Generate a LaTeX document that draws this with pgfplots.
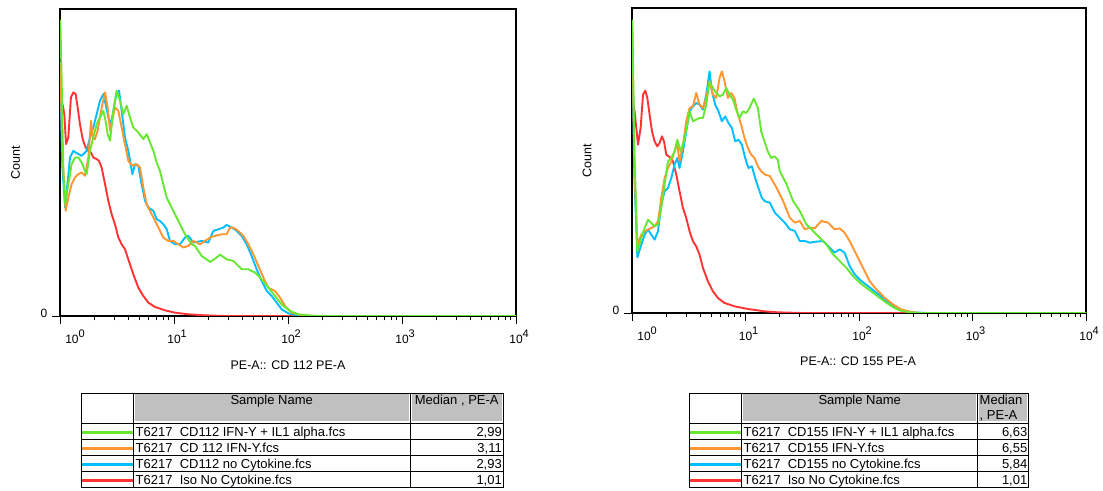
\documentclass[border=0pt]{standalone}
\usepackage{pgfplots}
\pgfplotsset{compat=1.18}
\usepackage{fontspec}
\setmainfont{Liberation Sans}
\definecolor{fjgreen}{RGB}{102,232,51}
\definecolor{fjorange}{RGB}{255,150,50}
\definecolor{fjblue}{RGB}{0,190,255}
\definecolor{fjred}{RGB}{255,51,51}
\definecolor{hdrgray}{RGB}{192,192,192}
\newcommand{\tl}[1]{\fontsize{12bp}{12bp}\selectfont 10\rlap{\raisebox{5.5bp}{\fontsize{11bp}{11bp}\selectfont #1}}}
\newcommand{\labfont}{\fontsize{12.5bp}{14bp}\selectfont}
\newcommand{\tabfont}{\fontsize{13bp}{15bp}\selectfont}
\pgfplotsset{
  flowjo/.style={
    scale only axis, anchor=south west,
    xmin=0, xmax=4, ymin=0,
    axis line style={black, line width=1.5bp},
    tick align=outside, tick pos=left,
    xtick={0,1,2,3,4},
    xticklabels={\hspace*{24bp}\tl{0},\tl{1},\tl{2},\tl{3},\tl{4}},
    minor xtick={0.30103,0.47712,0.60206,0.69897,0.77815,0.84510,0.90309,0.95424,
      1.30103,1.47712,1.60206,1.69897,1.77815,1.84510,1.90309,1.95424,
      2.30103,2.47712,2.60206,2.69897,2.77815,2.84510,2.90309,2.95424,
      3.30103,3.47712,3.60206,3.69897,3.77815,3.84510,3.90309,3.95424},
    major tick length=8bp, minor tick length=4.5bp,
    every tick/.style={black, line width=0.8bp},
    ytick={0}, yticklabels={0},
    xticklabel style={anchor=base, yshift=-19.5bp},
    yticklabel style={font=\fontsize{12bp}{12bp}\selectfont, anchor=center, xshift=-8bp, yshift=3bp},
    every axis plot/.append style={line width=1.9bp, line join=round},
    clip=true,
  }
}
\begin{document}
\begin{tikzpicture}[x=1bp,y=1bp]
\path[use as bounding box] (0,0) rectangle (1103,491);
% ---------------- left histogram ----------------
\begin{axis}[flowjo, at={(60bp,175bp)}, width=456bp, height=307bp, ymax=920,
  xlabel={PE-A:: CD 112 PE-A}, ylabel={Count},
  every axis x label/.style={at={(axis description cs:0.5,-0.16)}, anchor=center, font=\labfont},
  every axis y label/.style={at={(axis description cs:-0.0976,0.5)}, rotate=90, anchor=center, font=\labfont}]
% Iso No Cytokine
\addplot[fjred] coordinates {(0.003,650) (0.025,630) (0.038,605) (0.053,515) (0.073,535) (0.096,655) (0.117,670) (0.137,665) (0.155,625) (0.175,575) (0.196,535) (0.213,515) (0.234,500) (0.249,495) (0.272,490) (0.292,475) (0.322,470) (0.342,465) (0.365,445) (0.395,395) (0.424,345) (0.453,305) (0.482,275) (0.512,235) (0.541,215) (0.570,200) (0.599,170) (0.643,125) (0.687,85) (0.731,60) (0.775,40) (0.833,27) (0.921,17) (1.009,10) (1.126,5) (1.27,2) (1.45,0) (4,0)};
% CD112 no Cytokine
\addplot[fjblue] coordinates {(0.003,700) (0.02,450) (0.045,325) (0.088,475) (0.117,495) (0.137,490) (0.19,480) (0.234,495) (0.263,535) (0.292,565) (0.322,605) (0.351,645) (0.38,665) (0.4,635) (0.424,595) (0.447,575) (0.468,615) (0.497,670) (0.518,675) (0.541,615) (0.57,535) (0.599,495) (0.635,425) (0.658,455) (0.687,450) (0.716,395) (0.746,345) (0.775,325) (0.819,315) (0.848,290) (0.877,285) (0.906,275) (0.936,260) (0.965,225) (1.009,215) (1.053,215) (1.096,235) (1.126,240) (1.17,220) (1.243,225) (1.301,220) (1.345,255) (1.389,260) (1.433,265) (1.462,273) (1.506,265) (1.55,255) (1.594,240) (1.637,215) (1.681,180) (1.725,140) (1.769,105) (1.813,75) (1.857,60) (1.901,40) (1.944,20) (2.003,8) (2.09,1) (2.2,0) (4,0)};
% CD 112 IFN-Y
\addplot[fjorange] coordinates {(0.003,760) (0.02,500) (0.05,315) (0.073,355) (0.102,395) (0.132,415) (0.161,425) (0.19,430) (0.219,420) (0.249,475) (0.272,585) (0.287,535) (0.307,530) (0.33,555) (0.36,615) (0.395,670) (0.418,625) (0.439,555) (0.482,625) (0.512,615) (0.541,565) (0.57,515) (0.599,465) (0.635,450) (0.673,455) (0.702,445) (0.731,385) (0.76,335) (0.789,315) (0.819,295) (0.863,265) (0.906,235) (0.95,225) (0.994,225) (1.038,215) (1.082,205) (1.126,210) (1.17,225) (1.228,215) (1.272,225) (1.316,235) (1.36,240) (1.418,245) (1.462,245) (1.491,265) (1.52,265) (1.564,255) (1.608,240) (1.652,215) (1.696,185) (1.74,150) (1.784,115) (1.827,85) (1.886,75) (1.93,55) (1.974,30) (2.032,10) (2.12,2) (2.25,0) (4,0)};
% CD112 IFN-Y + IL1 alpha
\addplot[fjgreen] coordinates {(0.003,888) (0.015,700) (0.029,435) (0.044,335) (0.073,395) (0.102,455) (0.132,475) (0.161,475) (0.19,460) (0.219,435) (0.234,425) (0.263,495) (0.292,535) (0.322,575) (0.351,595) (0.38,615) (0.4,585) (0.418,545) (0.439,525) (0.468,615) (0.497,675) (0.526,645) (0.556,605) (0.585,630) (0.614,595) (0.643,565) (0.687,550) (0.731,530) (0.76,545) (0.789,520) (0.819,495) (0.848,460) (0.877,435) (0.906,395) (0.936,355) (0.965,335) (1.009,305) (1.053,275) (1.096,245) (1.155,215) (1.184,210) (1.243,180) (1.316,162) (1.374,175) (1.404,184) (1.462,170) (1.52,165) (1.594,140) (1.652,140) (1.711,130) (1.769,110) (1.827,85) (1.886,60) (1.944,35) (2.018,15) (2.09,5) (2.2,1) (2.35,0) (4,0)};
\end{axis}
% ---------------- right histogram ----------------
\begin{axis}[flowjo, at={(632bp,178bp)}, width=454bp, height=305bp, ymax=915,
  xlabel={PE-A:: CD 155 PE-A}, ylabel={Count},
  every axis x label/.style={at={(axis description cs:0.498,-0.157)}, anchor=center, font=\labfont},
  every axis y label/.style={at={(axis description cs:-0.099,0.5)}, rotate=90, anchor=center, font=\labfont}]
% Iso No Cytokine
\addplot[fjred] coordinates {(0.003,640) (0.023,605) (0.053,505) (0.076,555) (0.097,655) (0.117,667) (0.135,645) (0.155,595) (0.176,545) (0.199,515) (0.223,500) (0.243,510) (0.264,530) (0.282,515) (0.302,475) (0.331,468) (0.361,455) (0.390,415) (0.419,365) (0.449,315) (0.478,285) (0.507,245) (0.537,215) (0.566,200) (0.595,175) (0.625,135) (0.669,95) (0.713,65) (0.757,45) (0.815,30) (0.903,20) (1.021,12) (1.167,5) (1.284,2) (1.5,0) (4,0)};
% CD155 no Cytokine
\addplot[fjblue] coordinates {(0.003,800) (0.02,420) (0.047,167) (0.082,205) (0.111,235) (0.141,250) (0.170,235) (0.199,220) (0.229,245) (0.258,325) (0.287,365) (0.317,375) (0.346,405) (0.375,445) (0.399,465) (0.419,435) (0.449,485) (0.478,545) (0.507,605) (0.537,620) (0.566,630) (0.595,625) (0.625,610) (0.654,655) (0.683,725) (0.704,665) (0.733,625) (0.762,605) (0.792,575) (0.821,590) (0.850,570) (0.880,555) (0.909,515) (0.938,520) (0.968,505) (0.997,465) (1.026,435) (1.056,440) (1.085,405) (1.114,375) (1.144,345) (1.173,335) (1.214,331) (1.258,301) (1.302,286) (1.346,271) (1.390,251) (1.434,246) (1.478,216) (1.522,216) (1.566,211) (1.624,214) (1.683,216) (1.741,196) (1.785,181) (1.829,191) (1.873,181) (1.917,141) (1.961,116) (2.020,96) (2.078,81) (2.152,61) (2.225,41) (2.298,21) (2.372,8) (2.474,2) (2.6,0) (4,0)};
% CD155 IFN-Y
\addplot[fjorange] coordinates {(0.003,860) (0.02,450) (0.047,205) (0.082,235) (0.111,245) (0.141,250) (0.170,255) (0.199,260) (0.229,275) (0.258,345) (0.287,405) (0.317,435) (0.346,455) (0.375,485) (0.399,505) (0.419,455) (0.449,505) (0.478,575) (0.507,615) (0.537,620) (0.566,660) (0.595,625) (0.625,615) (0.654,645) (0.683,695) (0.713,655) (0.742,645) (0.771,705) (0.792,725) (0.815,695) (0.845,645) (0.874,660) (0.903,645) (0.933,595) (0.962,565) (0.991,525) (1.021,495) (1.050,475) (1.079,465) (1.109,440) (1.138,425) (1.173,415) (1.214,411) (1.273,376) (1.331,336) (1.390,286) (1.434,271) (1.478,276) (1.522,251) (1.566,256) (1.610,254) (1.668,276) (1.727,271) (1.785,251) (1.829,254) (1.873,241) (1.917,216) (1.961,186) (2.005,156) (2.049,126) (2.093,96) (2.152,71) (2.225,46) (2.298,26) (2.372,11) (2.445,4) (2.53,0) (4,0)};
% CD155 IFN-Y + IL1 alpha
\addplot[fjgreen] coordinates {(0.003,880) (0.02,500) (0.047,185) (0.082,225) (0.111,255) (0.141,280) (0.170,270) (0.199,260) (0.229,265) (0.258,315) (0.287,385) (0.317,455) (0.346,465) (0.375,485) (0.399,520) (0.428,485) (0.457,515) (0.487,565) (0.507,605) (0.537,575) (0.566,580) (0.595,585) (0.625,585) (0.654,625) (0.683,695) (0.713,675) (0.742,660) (0.771,650) (0.801,655) (0.830,675) (0.859,655) (0.889,640) (0.918,610) (0.947,585) (0.977,605) (1.006,600) (1.035,615) (1.073,643) (1.109,615) (1.138,545) (1.167,515) (1.196,485) (1.226,465) (1.255,470) (1.284,460) (1.302,426) (1.361,386) (1.419,336) (1.478,306) (1.536,266) (1.595,246) (1.653,226) (1.712,206) (1.771,176) (1.829,156) (1.888,136) (1.946,111) (2.005,91) (2.064,76) (2.122,61) (2.181,46) (2.240,31) (2.298,18) (2.357,8) (2.445,2) (2.53,0) (4,0)};
\end{axis}
% ---------------- left table ----------------
\fill[hdrgray] (135,69.5) rectangle (408.5,96.5);
\fill[hdrgray] (411.5,69.5) rectangle (502,96.5);
\draw[black, line width=0.9bp] (81.5,4) rectangle (503.3,98);
\foreach \yy in {68,52,36,20} {\draw[black, line width=0.9bp] (81.5,\yy) -- (503.3,\yy);}
\draw[black, line width=0.9bp] (133.5,4) -- (133.5,98);
\draw[black, line width=0.9bp] (410,4) -- (410,98);
\draw[fjgreen, line width=3bp] (82,58.5) -- (133,58.5);
\draw[fjorange, line width=3bp] (82,42.5) -- (133,42.5);
\draw[fjblue, line width=3bp] (82,26.5) -- (133,26.5);
\draw[fjred, line width=3bp] (82,10.5) -- (133,10.5);
\node[anchor=base, font=\tabfont, inner sep=0pt] at (271.7,86) {Sample Name};
\node[anchor=base, font=\tabfont, inner sep=0pt] at (456.7,86) {Median , PE-A};
\node[anchor=base west, font=\tabfont, inner sep=0pt] at (135.5,54.5) {T6217\ \ CD112 IFN-Y + IL1 alpha.fcs};
\node[anchor=base west, font=\tabfont, inner sep=0pt] at (135.5,38.5) {T6217\ \ CD 112 IFN-Y.fcs};
\node[anchor=base west, font=\tabfont, inner sep=0pt] at (135.5,22.5) {T6217\ \ CD112 no Cytokine.fcs};
\node[anchor=base west, font=\tabfont, inner sep=0pt] at (135.5,6.5) {T6217\ \ Iso No Cytokine.fcs};
\node[anchor=base east, font=\tabfont, inner sep=0pt] at (502,54.5) {2,99};
\node[anchor=base east, font=\tabfont, inner sep=0pt] at (502,38.5) {3,11};
\node[anchor=base east, font=\tabfont, inner sep=0pt] at (502,22.5) {2,93};
\node[anchor=base east, font=\tabfont, inner sep=0pt] at (502,6.5) {1,01};
% ---------------- right table ----------------
\fill[hdrgray] (743.2,69.5) rectangle (976.2,96.5);
\fill[hdrgray] (979.2,69.5) rectangle (1027.3,96.5);
\draw[black, line width=0.9bp] (689.5,4) rectangle (1028.5,98);
\foreach \yy in {68,52,36,20} {\draw[black, line width=0.9bp] (689.5,\yy) -- (1028.5,\yy);}
\draw[black, line width=0.9bp] (741.7,4) -- (741.7,98);
\draw[black, line width=0.9bp] (977.7,4) -- (977.7,98);
\draw[fjgreen, line width=3bp] (690,58.5) -- (741.2,58.5);
\draw[fjorange, line width=3bp] (690,42.5) -- (741.2,42.5);
\draw[fjblue, line width=3bp] (690,26.5) -- (741.2,26.5);
\draw[fjred, line width=3bp] (690,10.5) -- (741.2,10.5);
\node[anchor=base, font=\tabfont, inner sep=0pt] at (859.7,86) {Sample Name};
\node[anchor=base west, font=\tabfont, inner sep=0pt] at (979.5,86) {Median};
\node[anchor=base west, font=\tabfont, inner sep=0pt] at (979.5,71) {, PE-A};
\node[anchor=base west, font=\tabfont, inner sep=0pt] at (743.5,54.5) {T6217\ \ CD155 IFN-Y + IL1 alpha.fcs};
\node[anchor=base west, font=\tabfont, inner sep=0pt] at (743.5,38.5) {T6217\ \ CD155 IFN-Y.fcs};
\node[anchor=base west, font=\tabfont, inner sep=0pt] at (743.5,22.5) {T6217\ \ CD155 no Cytokine.fcs};
\node[anchor=base west, font=\tabfont, inner sep=0pt] at (743.5,6.5) {T6217\ \ Iso No Cytokine.fcs};
\node[anchor=base east, font=\tabfont, inner sep=0pt] at (1027.5,54.5) {6,63};
\node[anchor=base east, font=\tabfont, inner sep=0pt] at (1027.5,38.5) {6,55};
\node[anchor=base east, font=\tabfont, inner sep=0pt] at (1027.5,22.5) {5,84};
\node[anchor=base east, font=\tabfont, inner sep=0pt] at (1027.5,6.5) {1,01};
\end{tikzpicture}
\end{document}
